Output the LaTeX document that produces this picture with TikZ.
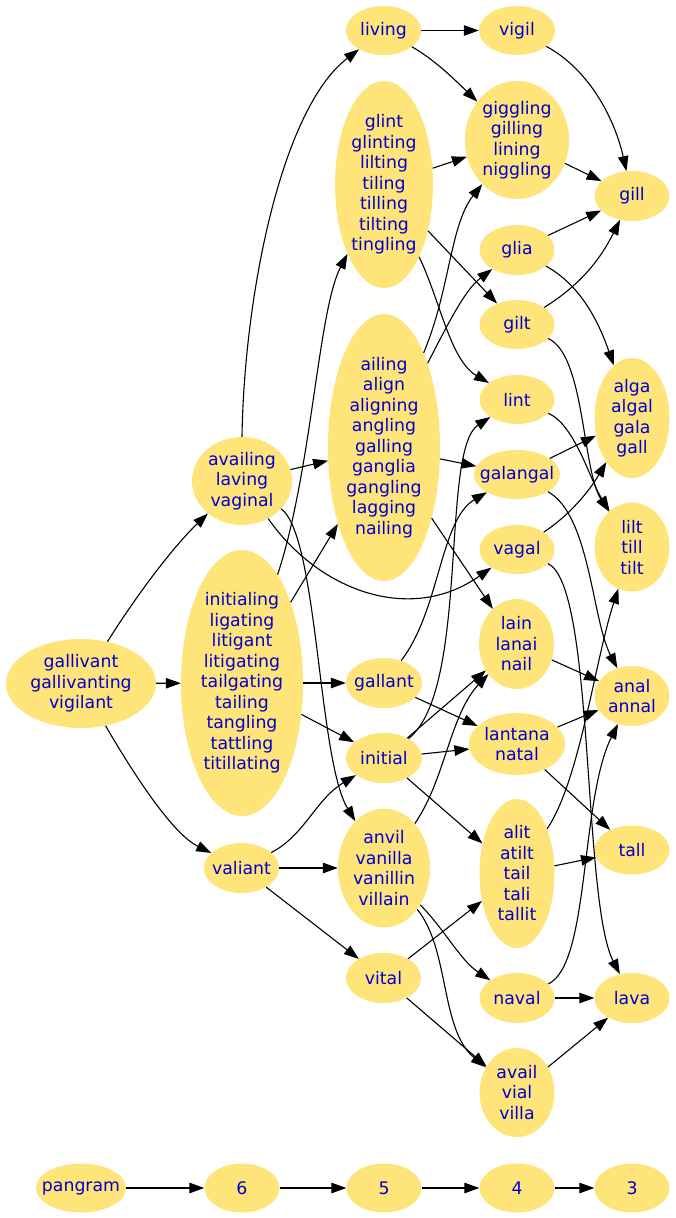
\documentclass[tikz,border=0pt]{standalone}
\usepackage{fontspec}
\setmainfont{DejaVu Sans}
\usetikzlibrary{shapes.geometric,arrows.meta}
\definecolor{nodefill}{RGB}{255,228,122}
\definecolor{txt}{RGB}{0,0,205}
\begin{document}
\begin{tikzpicture}[x=1pt,y=-1pt,
  wtext/.style={align=center, text=txt, font=\fontsize{17.3}{20.5}\selectfont, inner sep=0pt},
  w/.style n args={3}{ellipse, fill=nodefill, minimum width=#1, minimum height=#2, inner sep=0pt, label={[wtext]center:{#3}}},
  e/.style={-{Triangle[length=15pt,width=10.5pt]}, line width=1.1pt}]
\useasboundingbox (0,0) rectangle (675,1218);
% column 1
\node[w={150pt}{89pt}{gallivant\\gallivanting\\vigilant}] (gv) at (81,683.5) {};
\node[w={90pt}{49pt}{pangram}] (pangram) at (81,1188) {};
% column 2
\node[w={100pt}{88pt}{availing\\laving\\vaginal}] (availing) at (242,481) {};
\node[w={122pt}{266pt}{initialing\\ligating\\litigant\\litigating\\tailgating\\tailing\\tangling\\tattling\\titillating}] (initialing) at (242,683) {};
\node[w={75pt}{50pt}{valiant}] (valiant) at (241.5,868) {};
\node[w={75pt}{49pt}{6}] (n6) at (242,1188) {};
% column 3
\node[w={75pt}{49pt}{living}] (living) at (383.5,30.5) {};
\node[w={98pt}{207pt}{glint\\glinting\\lilting\\tiling\\tilling\\tilting\\tingling}] (glint) at (384,184.5) {};
\node[w={112pt}{267pt}{ailing\\align\\aligning\\angling\\galling\\ganglia\\gangling\\lagging\\nailing}] (ailing) at (384,447.5) {};
\node[w={76pt}{50pt}{gallant}] (gallant) at (384,683) {};
\node[w={76pt}{50pt}{initial}] (initial) at (384,758) {};
\node[w={92pt}{119pt}{anvil\\vanilla\\vanillin\\villain}] (anvil) at (384,868) {};
\node[w={75pt}{50pt}{vital}] (vital) at (383.5,978) {};
\node[w={75pt}{49pt}{5}] (n5) at (384,1188) {};
% column 4
\node[w={76pt}{49pt}{vigil}] (vigil) at (517,30.5) {};
\node[w={104pt}{118pt}{giggling\\gilling\\lining\\niggling}] (giggling) at (517,140) {};
\node[w={75pt}{50pt}{glia}] (glia) at (517,250) {};
\node[w={75pt}{49pt}{gilt}] (gilt) at (517,324.5) {};
\node[w={75pt}{49pt}{lint}] (lint) at (517,399.5) {};
\node[w={86pt}{49pt}{galangal}] (galangal) at (517,474.5) {};
\node[w={75pt}{49pt}{vagal}] (vagal) at (517,549.5) {};
\node[w={75pt}{90pt}{lain\\lanai\\nail}] (lain) at (516.5,644) {};
\node[w={96pt}{62pt}{lantana\\natal}] (lantana) at (517,744) {};
\node[w={75pt}{149pt}{alit\\atilt\\tail\\tali\\tallit}] (alit) at (517,873.5) {};
\node[w={75pt}{50pt}{naval}] (naval) at (517,998) {};
\node[w={75pt}{89pt}{avail\\vial\\villa}] (avail) at (517,1092.5) {};
\node[w={75pt}{49pt}{4}] (n4) at (517,1188) {};
% column 5
\node[w={75pt}{50pt}{gill}] (gill) at (632,196) {};
\node[w={75pt}{120pt}{alga\\algal\\gala\\gall}] (alga) at (632,418) {};
\node[w={75pt}{89pt}{lilt\\till\\tilt}] (lilt) at (632,547) {};
\node[w={75pt}{60pt}{anal\\annal}] (anal) at (632,696) {};
\node[w={75pt}{49pt}{tall}] (tall) at (632,850) {};
\node[w={75pt}{50pt}{lava}] (lava) at (632,998) {};
\node[w={75pt}{49pt}{3}] (n3) at (632,1188) {};

% edges 7 -> 6
\draw[e] (gv) .. controls (140,590) and (175,545) .. (availing);
\draw[e] (gv) -- (initialing);
\draw[e] (gv) .. controls (140,785) and (175,835) .. (valiant);
% 6 -> 5
\draw[e] (availing.north) .. controls (244,300) and (280,110) .. (living);
\draw[e] (availing) -- (ailing);
\draw[e] (availing) .. controls (318,535) and (318,760) .. (anvil);
\draw[e] (availing) .. controls (318,590) and (410,625) .. (vagal);
\draw[e] (initialing) .. controls (312,470) and (318,310) .. (glint);
\draw[e] (initialing) -- (ailing);
\draw[e] (initialing) -- (gallant);
\draw[e] (initialing) -- (initial);
\draw[e] (valiant) .. controls (305,835) and (315,800) .. (initial);
\draw[e] (valiant) -- (anvil);
\draw[e] (valiant) -- (vital);
% 5 -> 4
\draw[e] (living) -- (vigil);
\draw[e] (living) .. controls (435,60) and (455,80) .. (giggling);
\draw[e] (glint) -- (giggling);
\draw[e] (glint) -- (gilt);
\draw[e] (glint) .. controls (440,300) and (450,360) .. (lint);
\draw[e] (ailing) .. controls (450,290) and (450,225) .. (giggling);
\draw[e] (ailing) .. controls (450,320) and (465,290) .. (glia);
\draw[e] (ailing) -- (galangal);
\draw[e] (ailing) -- (lain);
\draw[e] (gallant) .. controls (440,610) and (440,520) .. (galangal);
\draw[e] (gallant) -- (lantana);
\draw[e] (initial) .. controls (470,690) and (440,450) .. (lint);
\draw[e] (initial) -- (lain);
\draw[e] (initial) -- (lantana);
\draw[e] (initial) -- (alit);
\draw[e] (anvil) .. controls (445,780) and (450,715) .. (lain);
\draw[e] (anvil) .. controls (445,930) and (460,960) .. (naval);
\draw[e] (anvil) .. controls (450,950) and (440,1030) .. (avail);
\draw[e] (vital) -- (alit);
\draw[e] (vital) -- (avail);
% 4 -> 3
\draw[e] (vigil) .. controls (590,70) and (615,120) .. (gill);
\draw[e] (giggling) -- (gill);
\draw[e] (glia) -- (gill);
\draw[e] (glia) .. controls (580,285) and (598,320) .. (alga);
\draw[e] (gilt) .. controls (580,285) and (600,260) .. (gill);
\draw[e] (gilt) .. controls (585,355) and (582,470) .. (lilt);
\draw[e] (lint) .. controls (575,425) and (590,480) .. (lilt);
\draw[e] (galangal) -- (alga);
\draw[e] (galangal) .. controls (590,515) and (592,620) .. (anal);
\draw[e] (vagal) .. controls (570,515) and (590,490) .. (alga);
\draw[e] (vagal) .. controls (595,585) and (582,900) .. (lava);
\draw[e] (lain) -- (anal);
\draw[e] (lantana) -- (anal);
\draw[e] (lantana) -- (tall);
\draw[e] (alit) .. controls (580,780) and (595,660) .. (lilt);
\draw[e] (alit) -- (tall);
\draw[e] (naval) .. controls (590,965) and (580,800) .. (anal);
\draw[e] (naval) -- (lava);
\draw[e] (avail) -- (lava);
% bottom row
\draw[e] (pangram) -- (n6);
\draw[e] (n6) -- (n5);
\draw[e] (n5) -- (n4);
\draw[e] (n4) -- (n3);
\end{tikzpicture}
\end{document}
